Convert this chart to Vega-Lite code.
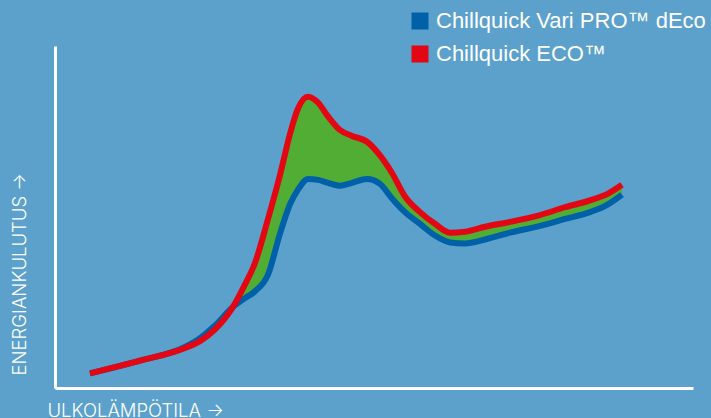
{
  "$schema": "https://vega.github.io/schema/vega-lite/v6.json",
  "width": 638,
  "height": 342,
  "autosize": {"type": "none"},
  "padding": {"left": 55, "top": 46, "right": 18, "bottom": 30},
  "background": "#5ba1cb",
  "config": {
    "view": {"stroke": null},
    "font": "Liberation Sans",
    "axis": {"domainColor": "#ffffff", "domainWidth": 3, "ticks": false, "labels": false, "grid": false,
      "titleColor": "#ffffff", "titleFont": "Inter", "titleFontSize": 18.5, "titleFontWeight": 300}
  },
  "data": {"values": [
    {"x": 35, "blue": 15, "red": 15},
    {"x": 85, "blue": 28, "red": 28},
    {"x": 130, "blue": 42, "red": 41},
    {"x": 145, "blue": 51, "red": 48},
    {"x": 160, "blue": 64, "red": 60},
    {"x": 178, "blue": 83, "red": 83},
    {"x": 190, "blue": 92, "red": 106},
    {"x": 200, "blue": 99, "red": 128},
    {"x": 213, "blue": 116, "red": 173},
    {"x": 225, "blue": 158, "red": 218},
    {"x": 235, "blue": 188, "red": 260},
    {"x": 243, "blue": 203, "red": 286},
    {"x": 253, "blue": 214, "red": 298},
    {"x": 263, "blue": 213, "red": 292},
    {"x": 273, "blue": 210, "red": 278},
    {"x": 285, "blue": 207, "red": 264},
    {"x": 297, "blue": 210, "red": 258},
    {"x": 312, "blue": 214, "red": 252},
    {"x": 325, "blue": 209, "red": 238},
    {"x": 337, "blue": 194, "red": 220},
    {"x": 350, "blue": 180, "red": 196},
    {"x": 365, "blue": 168, "red": 180},
    {"x": 380, "blue": 156, "red": 168},
    {"x": 395, "blue": 149, "red": 159},
    {"x": 410, "blue": 148, "red": 160},
    {"x": 430, "blue": 152, "red": 165},
    {"x": 455, "blue": 159, "red": 170},
    {"x": 485, "blue": 166, "red": 177},
    {"x": 510, "blue": 173, "red": 185},
    {"x": 535, "blue": 180, "red": 192},
    {"x": 553, "blue": 188, "red": 199},
    {"x": 567, "blue": 198, "red": 208}
  ]},
  "encoding": {
    "x": {"field": "x", "type": "quantitative", "scale": {"domain": [0, 638]},
      "axis": {"title": "ULKOLÄMPÖTILA →", "titleAnchor": "start", "titleAlign": "left", "titleX": -8, "titleY": 28, "titleBaseline": "alphabetic"}}
  },
  "layer": [
    {
      "transform": [{"filter": "datum.x >= 178"}],
      "mark": {"type": "area", "color": "#52ad34", "interpolate": "monotone"},
      "encoding": {
        "y": {"field": "blue", "type": "quantitative", "scale": {"domain": [0, 342]},
          "axis": {"title": "ENERGIANKULUTUS →", "titleAngle": -90, "titleAlign": "left", "titleBaseline": "alphabetic", "titleX": -30, "titleY": 329}},
        "y2": {"field": "red"}
      }
    },
    {
      "mark": {"type": "line", "strokeWidth": 6, "interpolate": "monotone", "strokeCap": "butt"},
      "encoding": {
        "y": {"field": "blue", "type": "quantitative"},
        "color": {"datum": "Chillquick Vari PRO™ dEco", "type": "nominal",
          "scale": {"domain": ["Chillquick Vari PRO™ dEco", "Chillquick ECO™"], "range": ["#0060a8", "#e30613"]},
          "legend": {"title": null, "orient": "none", "legendX": 354, "legendY": -36, "symbolType": "square", "symbolSize": 289,
            "symbolStrokeWidth": 0, "symbolOpacity": 1, "labelFontSize": 22, "labelColor": "#ffffff", "labelFont": "Liberation Sans", "labelOffset": 5, "rowPadding": 11, "labelLimit": 400,
            "encode": {"symbols": {"update": {"fill": {"scale": "color", "field": "value"}, "stroke": {"value": "transparent"}}}}}}
      }
    },
    {
      "mark": {"type": "line", "strokeWidth": 6, "interpolate": "monotone", "strokeCap": "butt"},
      "encoding": {
        "y": {"field": "red", "type": "quantitative"},
        "color": {"datum": "Chillquick ECO™", "type": "nominal"}
      }
    }
  ]
}
